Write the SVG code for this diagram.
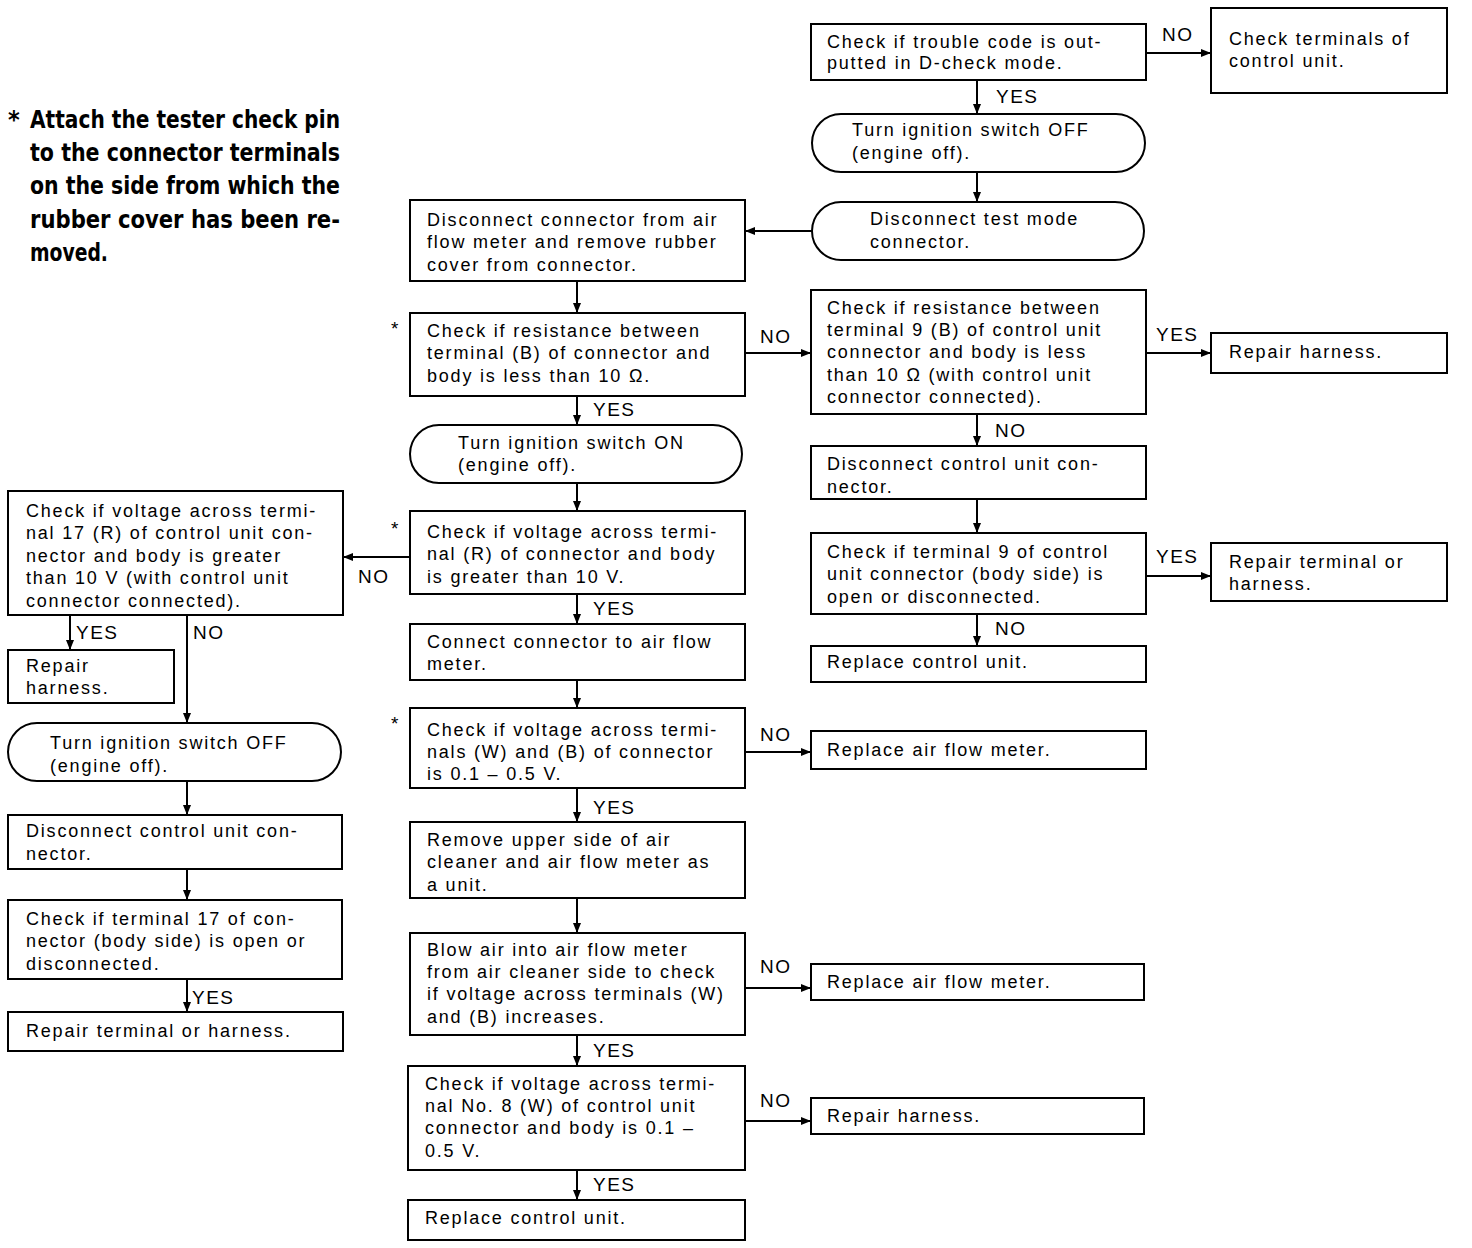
<svg xmlns="http://www.w3.org/2000/svg" width="1472" height="1248" viewBox="0 0 1472 1248">
<defs>
<marker id="ah" viewBox="0 0 10 8" refX="10" refY="4" markerWidth="10" markerHeight="8" markerUnits="userSpaceOnUse" orient="auto">
<path d="M0,0 L10,4 L0,8 Z" fill="#000"/>
</marker>
<style>
.b{fill:#fff;stroke:#000;stroke-width:2}
.t{font-family:"Liberation Sans",Arial,sans-serif;font-size:18px;letter-spacing:1.8px;fill:#000}
.l{font-family:"Liberation Sans",Arial,sans-serif;font-size:19px;letter-spacing:1.5px;fill:#000}
.c{fill:none;stroke:#000;stroke-width:2;marker-end:url(#ah)}
.note{font-family:"DejaVu Sans Condensed","DejaVu Sans",sans-serif;font-weight:bold;font-size:25px;fill:#000}
</style>
</defs>
<rect width="1472" height="1248" fill="#fff"/>

<g id="note">
<text class="note" x="8" y="128">*</text>
<text class="note" x="30" y="128" textLength="310" lengthAdjust="spacingAndGlyphs">Attach the tester check pin</text>
<text class="note" x="30" y="161" textLength="310" lengthAdjust="spacingAndGlyphs">to the connector terminals</text>
<text class="note" x="30" y="194" textLength="310" lengthAdjust="spacingAndGlyphs">on the side from which the</text>
<text class="note" x="30" y="228" textLength="310" lengthAdjust="spacingAndGlyphs">rubber cover has been re-</text>
<text class="note" x="30" y="261" textLength="78" lengthAdjust="spacingAndGlyphs">moved.</text>
</g>

<g id="connectors">
<line class="c" x1="1146" y1="53" x2="1211" y2="53"/>
<line class="c" x1="977" y1="80" x2="977" y2="114"/>
<line class="c" x1="977" y1="172" x2="977" y2="202"/>
<line class="c" x1="812" y1="231" x2="745" y2="231"/>
<line class="c" x1="577" y1="281" x2="577" y2="313"/>
<line class="c" x1="745" y1="353" x2="811" y2="353"/>
<line class="c" x1="1146" y1="353" x2="1211" y2="353"/>
<line class="c" x1="977" y1="414" x2="977" y2="446"/>
<line class="c" x1="977" y1="499" x2="977" y2="533"/>
<line class="c" x1="1146" y1="576" x2="1211" y2="576"/>
<line class="c" x1="977" y1="614" x2="977" y2="646"/>
<line class="c" x1="577" y1="396" x2="577" y2="425"/>
<line class="c" x1="577" y1="483" x2="577" y2="511"/>
<line class="c" x1="410" y1="557" x2="343" y2="557"/>
<line class="c" x1="577" y1="594" x2="577" y2="624"/>
<line class="c" x1="577" y1="680" x2="577" y2="708"/>
<line class="c" x1="745" y1="752" x2="811" y2="752"/>
<line class="c" x1="577" y1="788" x2="577" y2="822"/>
<line class="c" x1="577" y1="898" x2="577" y2="933"/>
<line class="c" x1="745" y1="988" x2="811" y2="988"/>
<line class="c" x1="577" y1="1035" x2="577" y2="1066"/>
<line class="c" x1="745" y1="1121" x2="811" y2="1121"/>
<line class="c" x1="577" y1="1170" x2="577" y2="1200"/>
<line class="c" x1="70" y1="615" x2="70" y2="650"/>
<line class="c" x1="187" y1="615" x2="187" y2="723"/>
<line class="c" x1="187" y1="781" x2="187" y2="815"/>
<line class="c" x1="187" y1="869" x2="187" y2="900"/>
<line class="c" x1="187" y1="979" x2="187" y2="1012"/>
</g>

<g id="labels">
<text class="l" x="1162" y="41">NO</text>
<text class="l" x="996" y="103">YES</text>
<text class="l" x="760" y="343">NO</text>
<text class="l" x="1156" y="341">YES</text>
<text class="l" x="995" y="437">NO</text>
<text class="l" x="1156" y="563">YES</text>
<text class="l" x="995" y="635">NO</text>
<text class="l" x="593" y="416">YES</text>
<text class="l" x="358" y="583">NO</text>
<text class="l" x="593" y="615">YES</text>
<text class="l" x="760" y="741">NO</text>
<text class="l" x="593" y="814">YES</text>
<text class="l" x="760" y="973">NO</text>
<text class="l" x="593" y="1057">YES</text>
<text class="l" x="760" y="1107">NO</text>
<text class="l" x="593" y="1191">YES</text>
<text class="l" x="76" y="639">YES</text>
<text class="l" x="193" y="639">NO</text>
<text class="l" x="192" y="1004">YES</text>
<text class="l" x="391" y="335">*</text>
<text class="l" x="391" y="535">*</text>
<text class="l" x="391" y="730">*</text>
</g>

<g id="n1"><rect class="b" x="811" y="24" width="335" height="56"/>
<text class="t" x="827" y="48">Check if trouble code is out-</text><text class="t" x="827" y="69">putted in D-check mode.</text></g>
<g id="n2"><rect class="b" x="1211" y="8" width="236" height="85"/>
<text class="t" x="1229" y="45">Check terminals of</text><text class="t" x="1229" y="67">control unit.</text></g>
<g id="n3"><rect class="b" x="812" y="114" width="333" height="58" rx="29"/>
<text class="t" x="852" y="136">Turn ignition switch OFF</text><text class="t" x="852" y="159">(engine off).</text></g>
<g id="n4"><rect class="b" x="812" y="202" width="332" height="58" rx="29"/>
<text class="t" x="870" y="225">Disconnect test mode</text><text class="t" x="870" y="248">connector.</text></g>
<g id="n5"><rect class="b" x="410" y="200" width="335" height="81"/>
<text class="t" x="427" y="226">Disconnect connector from air</text><text class="t" x="427" y="248">flow meter and remove rubber</text><text class="t" x="427" y="271">cover from connector.</text></g>
<g id="n6"><rect class="b" x="410" y="313" width="335" height="83"/>
<text class="t" x="427" y="337">Check if resistance between</text><text class="t" x="427" y="359">terminal (B) of connector and</text><text class="t" x="427" y="382">body is less than 10 Ω.</text></g>
<g id="n7"><rect class="b" x="811" y="290" width="335" height="124"/>
<text class="t" x="827" y="314">Check if resistance between</text><text class="t" x="827" y="336">terminal 9 (B) of control unit</text><text class="t" x="827" y="358">connector and body is less</text><text class="t" x="827" y="381">than 10 Ω (with control unit</text><text class="t" x="827" y="403">connector connected).</text></g>
<g id="n8"><rect class="b" x="1211" y="333" width="236" height="40"/>
<text class="t" x="1229" y="358">Repair harness.</text></g>
<g id="n9"><rect class="b" x="811" y="446" width="335" height="53"/>
<text class="t" x="827" y="470">Disconnect control unit con-</text><text class="t" x="827" y="493">nector.</text></g>
<g id="n10"><rect class="b" x="811" y="533" width="335" height="81"/>
<text class="t" x="827" y="558">Check if terminal 9 of control</text><text class="t" x="827" y="580">unit connector (body side) is</text><text class="t" x="827" y="603">open or disconnected.</text></g>
<g id="n11"><rect class="b" x="1211" y="543" width="236" height="58"/>
<text class="t" x="1229" y="568">Repair terminal or</text><text class="t" x="1229" y="590">harness.</text></g>
<g id="n12"><rect class="b" x="811" y="646" width="335" height="36"/>
<text class="t" x="827" y="668">Replace control unit.</text></g>
<g id="n13"><rect class="b" x="410" y="425" width="332" height="58" rx="29"/>
<text class="t" x="458" y="449">Turn ignition switch ON</text><text class="t" x="458" y="471">(engine off).</text></g>
<g id="n14"><rect class="b" x="410" y="511" width="335" height="83"/>
<text class="t" x="427" y="538">Check if voltage across termi-</text><text class="t" x="427" y="560">nal (R) of connector and body</text><text class="t" x="427" y="583">is greater than 10 V.</text></g>
<g id="n15"><rect class="b" x="410" y="624" width="335" height="56"/>
<text class="t" x="427" y="648">Connect connector to air flow</text><text class="t" x="427" y="670">meter.</text></g>
<g id="n16"><rect class="b" x="410" y="708" width="335" height="80"/>
<text class="t" x="427" y="736">Check if voltage across termi-</text><text class="t" x="427" y="758">nals (W) and (B) of connector</text><text class="t" x="427" y="780">is 0.1 – 0.5 V.</text></g>
<g id="n17"><rect class="b" x="811" y="731" width="335" height="38"/>
<text class="t" x="827" y="756">Replace air flow meter.</text></g>
<g id="n18"><rect class="b" x="410" y="822" width="335" height="76"/>
<text class="t" x="427" y="846">Remove upper side of air</text><text class="t" x="427" y="868">cleaner and air flow meter as</text><text class="t" x="427" y="891">a unit.</text></g>
<g id="n19"><rect class="b" x="410" y="933" width="335" height="102"/>
<text class="t" x="427" y="956">Blow air into air flow meter</text><text class="t" x="427" y="978">from air cleaner side to check</text><text class="t" x="427" y="1000">if voltage across terminals (W)</text><text class="t" x="427" y="1023">and (B) increases.</text></g>
<g id="n20"><rect class="b" x="811" y="964" width="333" height="36"/>
<text class="t" x="827" y="988">Replace air flow meter.</text></g>
<g id="n21"><rect class="b" x="408" y="1066" width="337" height="104"/>
<text class="t" x="425" y="1090">Check if voltage across termi-</text><text class="t" x="425" y="1112">nal No. 8 (W) of control unit</text><text class="t" x="425" y="1134">connector and body is 0.1 –</text><text class="t" x="425" y="1157">0.5 V.</text></g>
<g id="n22"><rect class="b" x="811" y="1098" width="333" height="36"/>
<text class="t" x="827" y="1122">Repair harness.</text></g>
<g id="n23"><rect class="b" x="408" y="1200" width="337" height="40"/>
<text class="t" x="425" y="1224">Replace control unit.</text></g>
<g id="n24"><rect class="b" x="8" y="491" width="335" height="124"/>
<text class="t" x="26" y="517">Check if voltage across termi-</text><text class="t" x="26" y="539">nal 17 (R) of control unit con-</text><text class="t" x="26" y="562">nector and body is greater</text><text class="t" x="26" y="584">than 10 V (with control unit</text><text class="t" x="26" y="607">connector connected).</text></g>
<g id="n25"><rect class="b" x="8" y="650" width="166" height="53"/>
<text class="t" x="26" y="672">Repair</text><text class="t" x="26" y="694">harness.</text></g>
<g id="n26"><rect class="b" x="8" y="723" width="333" height="58" rx="29"/>
<text class="t" x="50" y="749">Turn ignition switch OFF</text><text class="t" x="50" y="772">(engine off).</text></g>
<g id="n27"><rect class="b" x="8" y="815" width="334" height="54"/>
<text class="t" x="26" y="837">Disconnect control unit con-</text><text class="t" x="26" y="860">nector.</text></g>
<g id="n28"><rect class="b" x="8" y="900" width="334" height="79"/>
<text class="t" x="26" y="925">Check if terminal 17 of con-</text><text class="t" x="26" y="947">nector (body side) is open or</text><text class="t" x="26" y="970">disconnected.</text></g>
<g id="n29"><rect class="b" x="8" y="1012" width="335" height="39"/>
<text class="t" x="26" y="1037">Repair terminal or harness.</text></g>
</svg>
